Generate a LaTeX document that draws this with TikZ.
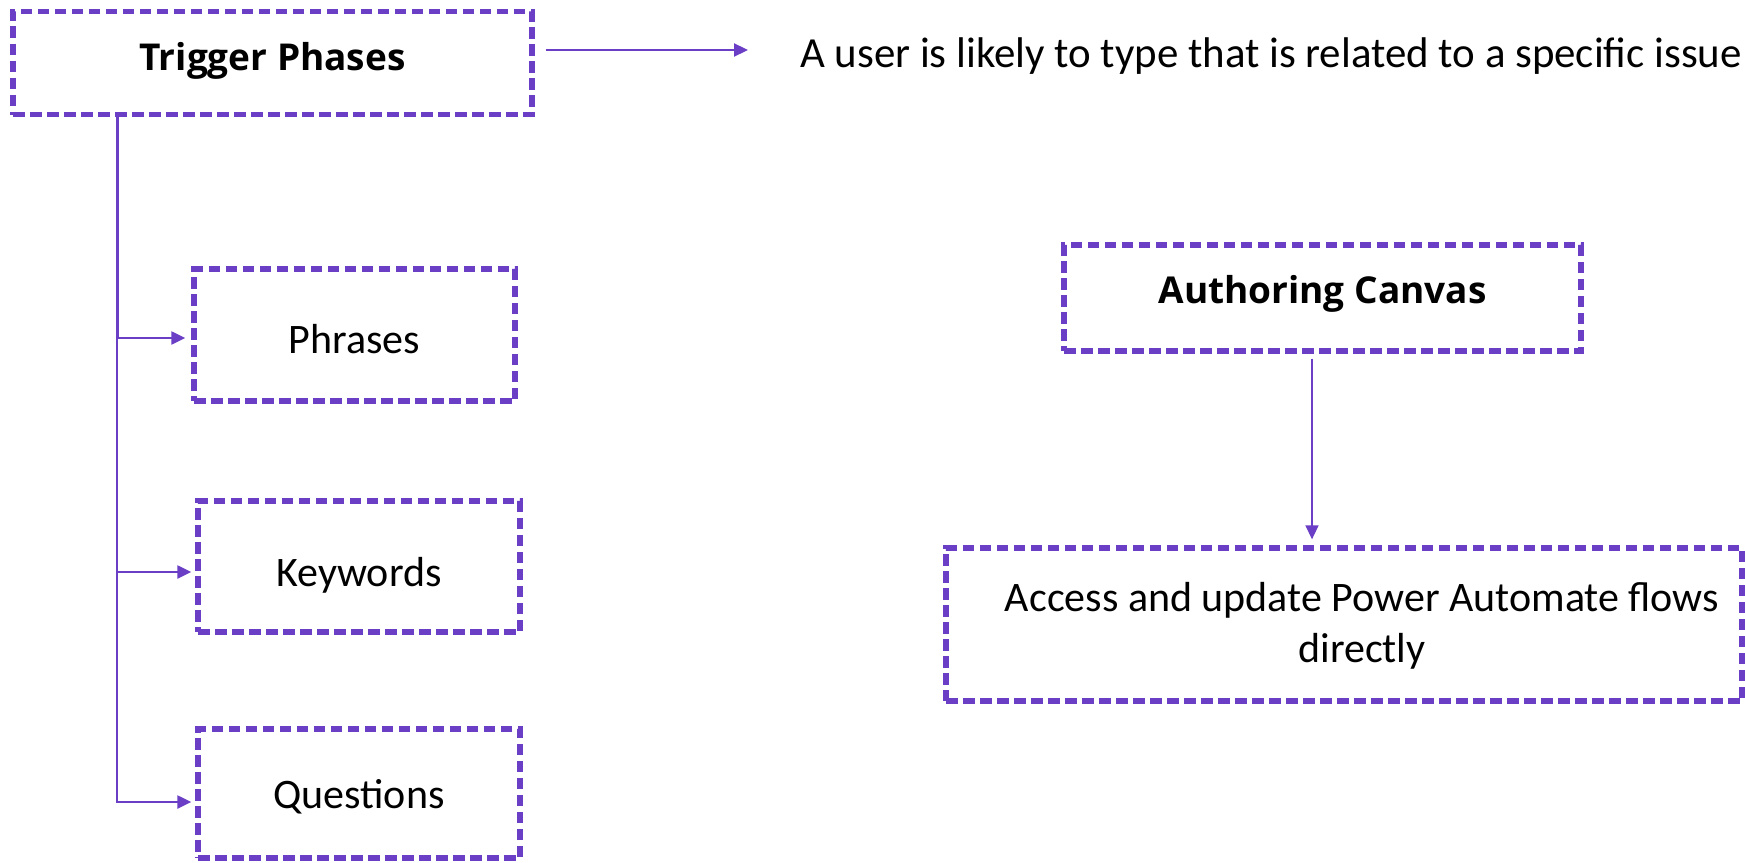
\documentclass[tikz,border=0pt]{standalone}
\usepackage{fontspec}
\setmainfont{Carlito}
\newfontfamily\headfont{Open Sans}
\usetikzlibrary{arrows.meta}
\definecolor{vio}{HTML}{6A3FC6}
\tikzset{
  dbox/.style={draw=vio, line width=5.3pt, dash pattern=on 11.5pt off 5.5pt, rectangle, inner sep=0pt, align=center},
  conn/.style={draw=vio, line width=2.2pt, -{Triangle[length=14pt,width=13pt]}},
  thinconn/.style={draw=vio, line width=1.6pt, -{Triangle[length=14pt,width=13pt]}},
  head/.style={font=\headfont\fontsize{37}{44}\selectfont\bfseries},
  body/.style={font=\fontsize{42}{51}\selectfont},
}
\begin{document}
\begin{tikzpicture}[x=1pt,y=-1pt]
\useasboundingbox (0,0) rectangle (1745,862);
% boxes
\node[dbox, head, minimum width=519pt, minimum height=103pt, text height=20pt, text depth=5pt] (trig) at (272.5,63) {Trigger Phases};
\node[dbox, body, minimum width=321pt, minimum height=132pt, text height=41.4pt, text depth=5pt] (phr) at (354.5,335) {Phrases};
\node[dbox, body, minimum width=322pt, minimum height=131pt, text height=44.4pt, text depth=5pt] (key) at (359,566.5) {Keywords};
\node[dbox, body, minimum width=322pt, minimum height=129pt, text height=34.4pt, text depth=5pt] (que) at (359,793.5) {Questions};
\node[dbox, head, minimum width=517pt, minimum height=106pt, text height=16.6pt, text depth=5pt] (auth) at (1322.5,298) {Authoring Canvas};
\node[dbox, minimum width=796pt, minimum height=153pt] (acc) at (1344,624.5) {};
\node[body, align=center, inner sep=0pt, anchor=base] (acctext) at (1362,662.7) {Access and update Power Automate flows\\directly};
\node[font=\fontsize{42.9}{52}\selectfont, anchor=base west, inner sep=0pt] (desc) at (800,67) {A user is likely to type that is related to a specific issue};
% connectors
\coordinate (trunk) at ([xshift=107pt]trig.south west);
\draw[conn] ([xshift=11pt,yshift=13pt]trig.east) -- ([xshift=-52pt,yshift=17pt]desc.base west);
\draw[draw=vio, line width=3pt] (trunk) -- ([yshift=-3pt]trunk |- phr.west);
\draw[draw=vio, line width=2pt] ([yshift=-3pt]trunk |- phr.west) -- ([yshift=-9.5pt]trunk |- que.west);
\draw[conn] ([yshift=-3pt]trunk |- phr.west) -- ([xshift=-6pt,yshift=-3pt]phr.west);
\draw[conn] ([yshift=-5.5pt]trunk |- key.west) -- ([xshift=-4pt,yshift=-5.5pt]key.west);
\draw[conn] ([yshift=-8.5pt]trunk |- que.west) -- ([xshift=-4pt,yshift=-8.5pt]que.west);
\draw[thinconn] ([xshift=-10.5pt,yshift=-5pt]auth.south) -- ([xshift=-32pt,yshift=6pt]acc.north);
\end{tikzpicture}
\end{document}
